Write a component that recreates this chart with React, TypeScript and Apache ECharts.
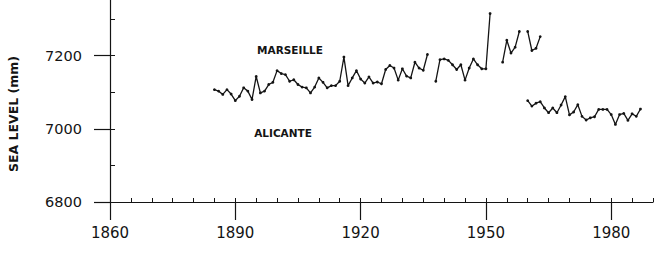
import React, { useEffect, useRef } from "react";
import * as echarts from "echarts";

// Annual mean sea level (mm)
const marseilleStart = 1885;
const marseilleValues: (number | null)[] = [
  7107, 7103, 7094, 7107, 7095, 7077, 7089, 7112, 7103, 7080, // 1885-1894
  7143, 7098, 7103, 7121, 7127, 7159, 7151, 7148, 7130, 7134, // 1895-1904
  7121, 7114, 7112, 7098, 7114, 7139, 7127, 7112, 7118, 7118, // 1905-1914
  7130, 7196, 7118, 7139, 7159, 7136, 7125, 7142, 7125, 7128, // 1915-1924
  7123, 7162, 7173, 7166, 7133, 7164, 7144, 7139, 7182, 7166, // 1925-1934
  7160, 7203, null, 7130, 7189, 7191, 7187, 7175, 7162, 7175, // 1935-1944
  7133, 7166, 7191, 7175, 7164, 7164, 7315, null, null, 7182, // 1945-1954
  7242, 7207, 7223, 7266, null, 7266, 7214, 7220, 7252,       // 1955-1963
];

const alicanteStart = 1960;
const alicanteValues: number[] = [
  7077, 7062, 7070, 7074, 7057, 7044, 7057, 7044, 7065, 7088, // 1960-1969
  7038, 7046, 7066, 7034, 7024, 7030, 7033, 7053, 7053, 7053, // 1970-1979
  7039, 7012, 7039, 7042, 7023, 7041, 7034, 7054,             // 1980-1987
];

const xMajorTicks = [1860, 1890, 1920, 1950, 1980];
const xMinorTicks = [
  1865, 1870, 1875, 1880, 1885, 1890, 1895, 1900, 1905, 1910, 1915, 1920, 1925,
  1930, 1935, 1940, 1945, 1950, 1955, 1960, 1965, 1970, 1975, 1980, 1985, 1990,
];
const yMajorTicks = [6800, 7000, 7200];
const yMinorTicks = [6800, 6900, 7000, 7100, 7200, 7300];

const yAxisTitle = "SEA LEVEL (mm)";
const seriesLabels = ["MARSEILLE", "ALICANTE"];

const INK = "#141414";

export default function App() {
  const ref = useRef<HTMLDivElement>(null);

  useEffect(() => {
    if (!ref.current) return;
    const chart = echarts.init(ref.current, null, { renderer: "svg" });
    const axisLineStyle = { color: INK, width: 1.2 };
    const font = "DejaVu Sans";

    chart.setOption({
      animation: false,
      backgroundColor: "#ffffff",
      grid: {
        left: 110,
        right: 15,
        top: 0,
        bottom: 51,
        containLabel: false,
        outerBoundsMode: "none",
      },
      xAxis: [
        {
          type: "value",
          min: 1860,
          max: 1990,
          position: "bottom",
          axisLine: { show: true, lineStyle: axisLineStyle },
          axisTick: {
            show: true,
            inside: false,
            length: 18,
            customValues: xMajorTicks,
            lineStyle: axisLineStyle,
          },
          axisLabel: {
            show: true,
            customValues: xMajorTicks,
            margin: 23,
            fontSize: 15,
            fontFamily: font,
            color: INK,
            formatter: (v: number) => String(v),
          },
          splitLine: { show: false },
        },
        {
          type: "value",
          min: 1860,
          max: 1990,
          position: "bottom",
          axisLine: { show: false },
          axisTick: {
            show: true,
            inside: true,
            length: 4,
            customValues: xMinorTicks,
            lineStyle: { color: INK, width: 1 },
          },
          axisLabel: { show: false },
          splitLine: { show: false },
        },
      ],
      yAxis: [
        {
          type: "value",
          min: 6800,
          max: 7352,
          position: "left",
          axisLine: { show: true, lineStyle: axisLineStyle },
          axisTick: {
            show: true,
            inside: false,
            length: 16,
            customValues: yMajorTicks,
            lineStyle: axisLineStyle,
          },
          axisLabel: {
            show: true,
            customValues: yMajorTicks,
            margin: 28,
            fontSize: 14.5,
            fontFamily: font,
            color: INK,
            formatter: (v: number) => String(v),
          },
          splitLine: { show: false },
        },
        {
          type: "value",
          min: 6800,
          max: 7352,
          position: "left",
          axisLine: { show: false },
          axisTick: {
            show: true,
            inside: true,
            length: 5,
            customValues: yMinorTicks,
            lineStyle: { color: INK, width: 1 },
          },
          axisLabel: { show: false },
          splitLine: { show: false },
        },
      ],
      graphic: [
        {
          type: "text",
          x: 13,
          y: 114,
          rotation: Math.PI / 2,
          style: {
            text: yAxisTitle,
            fontSize: 12.5,
            fontWeight: "bold",
            fontFamily: font,
            fill: INK,
            align: "center",
            verticalAlign: "middle",
          },
        },
        {
          type: "text",
          x: 290,
          y: 50,
          style: {
            text: seriesLabels[0],
            fontSize: 10.5,
            fontWeight: "bold",
            fontFamily: font,
            fill: INK,
            align: "center",
            verticalAlign: "middle",
          },
        },
        {
          type: "text",
          x: 283,
          y: 133,
          style: {
            text: seriesLabels[1],
            fontSize: 10.5,
            fontWeight: "bold",
            fontFamily: font,
            fill: INK,
            align: "center",
            verticalAlign: "middle",
          },
        },
      ],
      series: [
        {
          name: "Marseille",
          type: "line",
          xAxisIndex: 0,
          yAxisIndex: 0,
          data: marseilleValues.map((v, i) => [marseilleStart + i, v]),
          connectNulls: false,
          showSymbol: true,
          symbol: "circle",
          symbolSize: 2.8,
          itemStyle: { color: INK },
          lineStyle: { color: INK, width: 1.3 },
          clip: false,
        },
        {
          name: "Alicante",
          type: "line",
          xAxisIndex: 0,
          yAxisIndex: 0,
          data: alicanteValues.map((v, i) => [alicanteStart + i, v]),
          showSymbol: true,
          symbol: "circle",
          symbolSize: 2.8,
          itemStyle: { color: INK },
          lineStyle: { color: INK, width: 1.3 },
          clip: false,
        },
      ],
    });

    return () => chart.dispose();
  }, []);

  return (
    <div
      ref={ref}
      style={{ position: "fixed", left: 0, top: 0, width: 668, height: 253 }}
    />
  );
}
